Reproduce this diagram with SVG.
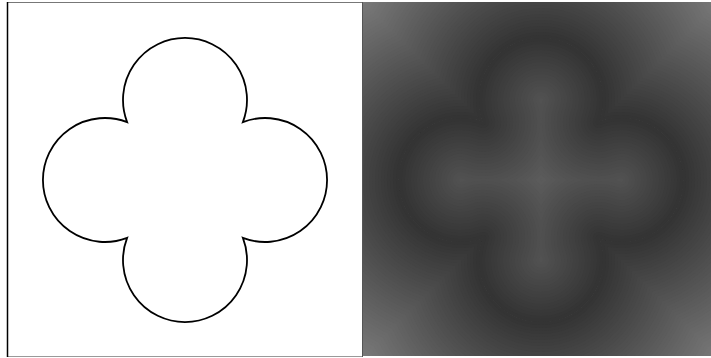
<svg xmlns="http://www.w3.org/2000/svg" xmlns:xlink="http://www.w3.org/1999/xlink" width="711" height="358" viewBox="0 0 711 358">
<defs>
<path id="shape" d="M127.1,122.1 A62,62 0 1 1 242.9,122.1 A62,62 0 1 1 242.9,237.9 A62,62 0 1 1 127.1,237.9 A62,62 0 1 1 127.1,122.1 Z"/>
<clipPath id="panelClip"><rect x="7" y="2" width="348" height="354"/></clipPath>
<clipPath id="insideClip"><use href="#shape"/></clipPath>
<style>
.f use{fill:none;stroke-linejoin:round;stroke-linecap:round}
</style>
</defs>
<rect width="711" height="358" fill="#ffffff"/>
<g id="left-panel">
<rect x="7" y="2" width="356" height="354" fill="#ffffff"/>
<line x1="7" y1="2.5" x2="363" y2="2.5" stroke="#777" stroke-width="1"/>
<line x1="7" y1="356.5" x2="363" y2="356.5" stroke="#999" stroke-width="1"/>
<line x1="7.5" y1="2" x2="7.5" y2="357" stroke="#000" stroke-width="1.5"/>
<line x1="362.5" y1="2" x2="362.5" y2="357" stroke="#555" stroke-width="1"/>
<use id="outline" href="#shape" fill="none" stroke="#000" stroke-width="1.8"/>
</g>
<g id="right-panel" transform="translate(356,0)">
<g clip-path="url(#panelClip)">
<g class="f" id="outside">
<rect x="7" y="2" width="348" height="354" fill="#7c7c7c"/>
<use href="#shape" stroke="#7a7a7a" stroke-width="288"/>
<use href="#shape" stroke="#797979" stroke-width="282"/>
<use href="#shape" stroke="#777777" stroke-width="276"/>
<use href="#shape" stroke="#767676" stroke-width="270"/>
<use href="#shape" stroke="#747474" stroke-width="264"/>
<use href="#shape" stroke="#737373" stroke-width="258"/>
<use href="#shape" stroke="#717171" stroke-width="252"/>
<use href="#shape" stroke="#707070" stroke-width="246"/>
<use href="#shape" stroke="#6e6e6e" stroke-width="240"/>
<use href="#shape" stroke="#6d6d6d" stroke-width="234"/>
<use href="#shape" stroke="#6b6b6b" stroke-width="228"/>
<use href="#shape" stroke="#6a6a6a" stroke-width="222"/>
<use href="#shape" stroke="#686868" stroke-width="216"/>
<use href="#shape" stroke="#676767" stroke-width="210"/>
<use href="#shape" stroke="#656565" stroke-width="204"/>
<use href="#shape" stroke="#646464" stroke-width="198"/>
<use href="#shape" stroke="#626262" stroke-width="192"/>
<use href="#shape" stroke="#616161" stroke-width="186"/>
<use href="#shape" stroke="#5f5f5f" stroke-width="180"/>
<use href="#shape" stroke="#5e5e5e" stroke-width="174"/>
<use href="#shape" stroke="#5c5c5c" stroke-width="168"/>
<use href="#shape" stroke="#5b5b5b" stroke-width="162"/>
<use href="#shape" stroke="#595959" stroke-width="156"/>
<use href="#shape" stroke="#585858" stroke-width="150"/>
<use href="#shape" stroke="#565656" stroke-width="144"/>
<use href="#shape" stroke="#555555" stroke-width="138"/>
<use href="#shape" stroke="#535353" stroke-width="132"/>
<use href="#shape" stroke="#525252" stroke-width="126"/>
<use href="#shape" stroke="#505050" stroke-width="120"/>
<use href="#shape" stroke="#4f4f4f" stroke-width="114"/>
<use href="#shape" stroke="#4d4d4d" stroke-width="108"/>
<use href="#shape" stroke="#4c4c4c" stroke-width="102"/>
<use href="#shape" stroke="#4a4a4a" stroke-width="96"/>
<use href="#shape" stroke="#494949" stroke-width="90"/>
<use href="#shape" stroke="#474747" stroke-width="84"/>
<use href="#shape" stroke="#464646" stroke-width="78"/>
<use href="#shape" stroke="#444444" stroke-width="72"/>
<use href="#shape" stroke="#434343" stroke-width="66"/>
<use href="#shape" stroke="#414141" stroke-width="60"/>
<use href="#shape" stroke="#404040" stroke-width="54"/>
<use href="#shape" stroke="#3e3e3e" stroke-width="48"/>
<use href="#shape" stroke="#3d3d3d" stroke-width="42"/>
<use href="#shape" stroke="#3b3b3b" stroke-width="36"/>
<use href="#shape" stroke="#3a3a3a" stroke-width="30"/>
<use href="#shape" stroke="#383838" stroke-width="24"/>
<use href="#shape" stroke="#373737" stroke-width="18"/>
<use href="#shape" stroke="#353535" stroke-width="12"/>
<use href="#shape" stroke="#343434" stroke-width="6"/>
</g>
<g clip-path="url(#insideClip)">
<g class="f" id="inside">
<use href="#shape" fill="#5c5c5c" stroke="none"/>
<use href="#shape" stroke="#5b5b5b" stroke-width="162"/>
<use href="#shape" stroke="#595959" stroke-width="156"/>
<use href="#shape" stroke="#585858" stroke-width="150"/>
<use href="#shape" stroke="#565656" stroke-width="144"/>
<use href="#shape" stroke="#555555" stroke-width="138"/>
<use href="#shape" stroke="#535353" stroke-width="132"/>
<use href="#shape" stroke="#525252" stroke-width="126"/>
<use href="#shape" stroke="#505050" stroke-width="120"/>
<use href="#shape" stroke="#4f4f4f" stroke-width="114"/>
<use href="#shape" stroke="#4d4d4d" stroke-width="108"/>
<use href="#shape" stroke="#4c4c4c" stroke-width="102"/>
<use href="#shape" stroke="#4a4a4a" stroke-width="96"/>
<use href="#shape" stroke="#494949" stroke-width="90"/>
<use href="#shape" stroke="#474747" stroke-width="84"/>
<use href="#shape" stroke="#464646" stroke-width="78"/>
<use href="#shape" stroke="#444444" stroke-width="72"/>
<use href="#shape" stroke="#434343" stroke-width="66"/>
<use href="#shape" stroke="#414141" stroke-width="60"/>
<use href="#shape" stroke="#404040" stroke-width="54"/>
<use href="#shape" stroke="#3e3e3e" stroke-width="48"/>
<use href="#shape" stroke="#3d3d3d" stroke-width="42"/>
<use href="#shape" stroke="#3b3b3b" stroke-width="36"/>
<use href="#shape" stroke="#3a3a3a" stroke-width="30"/>
<use href="#shape" stroke="#383838" stroke-width="24"/>
<use href="#shape" stroke="#373737" stroke-width="18"/>
<use href="#shape" stroke="#353535" stroke-width="12"/>
<use href="#shape" stroke="#343434" stroke-width="6"/>
</g>
</g>
</g>
</g>
</svg>
